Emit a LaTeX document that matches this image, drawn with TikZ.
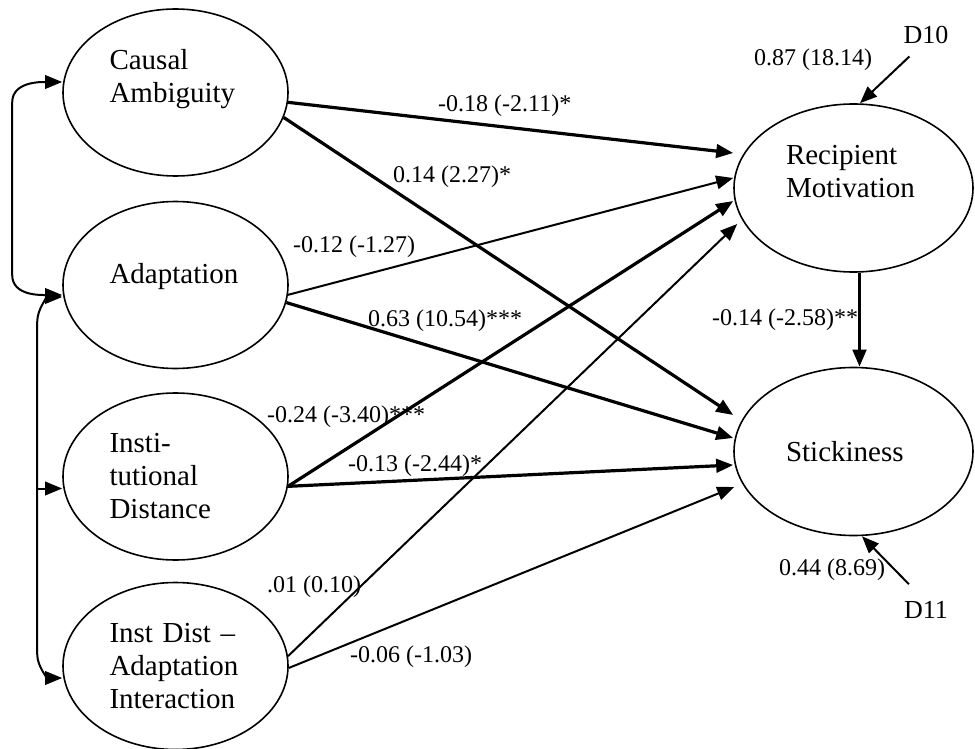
\documentclass[tikz,border=0pt]{standalone}
\usepackage{fontspec}
\setmainfont{Liberation Serif}
\usetikzlibrary{shapes.geometric,arrows.meta}
\begin{document}
\begin{tikzpicture}[x=1pt,y=1pt,
  arw/.tip={Triangle[length=17pt,width=13.5pt]},
  lat/.style={ellipse, draw, line width=1.6pt, inner sep=0pt,
    minimum width=225pt, minimum height=167pt, text width=132pt,
    align=left, font=\fontsize{29}{33}\selectfont},
  latR/.style={lat, minimum width=239pt, minimum height=168pt, text width=135pt},
  thk/.style={line width=3.2pt, -arw},
  thn/.style={line width=2pt, -arw},
  cov/.style={line width=2pt, arw-arw},
  brn/.style={line width=2pt, -arw},
  elab/.style={inner sep=0pt, anchor=west, font=\fontsize{24}{28}\selectfont},
  dlab/.style={inner sep=0pt, font=\fontsize{26}{30}\selectfont}
]
\useasboundingbox (0,0) rectangle (975,-749);

% latent variables
\node[lat]  (ca) at (175.5,-92.5) {Causal\\Ambiguity\\\mbox{}};
\node[lat]  (ad) at (175.5,-285)  {Adaptation\\[-9pt]\mbox{}};
\node[lat]  (id) at (175.5,-476.5) {Insti-\\tutional\\Distance};
\node[lat]  (ix) at (175.5,-666)  {Inst Dist –\\Adaptation\\Interaction};
\node[latR] (rm) at (853.5,-188)  {Recipient\\Motivation\\\mbox{}};
\node[latR] (st) at (853.5,-451.5) {Stickiness};

% disturbances
\node[dlab] (d10) at (926,-35)  {D10};
\node[dlab] (d11) at (926,-610) {D11};

% covariances
\draw[cov] ([yshift=10.5pt]ca.west) to[out=180,in=90] ([xshift=-50pt,yshift=-10pt]ca.west)
  -- ([xshift=-50pt,yshift=10pt]ad.west) to[out=-90,in=180] ([yshift=-10pt]ad.west);
\draw[cov] ([yshift=-12pt]ad.west) to[out=180,in=90] ([xshift=-25pt,yshift=-37pt]ad.west)
  -- ([xshift=-25pt,yshift=12pt]ix.west) to[out=-90,in=180] ([yshift=-12pt]ix.west);
\draw[brn] ([xshift=-25pt,yshift=-12pt]id.west) -- ([yshift=-12pt]id.west);

% structural paths
\draw[thk] (ca.-5.9)  -- ([yshift=35pt]rm.west);
\draw[thk] (ca.-13.3) -- ([yshift=36.5pt]st.west);
\draw[thn] (ad.-5.1)  -- ([yshift=10pt]rm.west);
\draw[thk] (ad.-9.3)  -- ([yshift=13.5pt]st.west);
\draw[thk] (id.-5.4)  -- ([yshift=-13pt]rm.west);
\draw[thk] (id.-5.4)  -- ([yshift=-13.5pt]st.west);
\draw[thn] (ix.5.4)   -- ([shift={(4pt,-36pt)}]rm.west);
\draw[thn] (ix.-1)    -- ([shift={(1pt,-35.5pt)}]st.west);
\draw[thk] ([xshift=6pt]rm.south) -- ([xshift=6pt]st.north);
\draw[thn] ([shift={(6pt,-12.5pt)}]d10.south west) -- ([xshift=6.5pt]rm.north);
\draw[thn] ([shift={(5pt,17pt)}]d11.north west) -- ([xshift=8.5pt]st.south);

% path labels
\node[elab] (l1)  at (438,-106) {-0.18 (-2.11)*};
\node[elab] (l2)  at (393,-177) {0.14 (2.27)*};
\node[elab] (l3)  at (293,-247) {-0.12 (-1.27)};
\node[elab] (l4)  at (368,-321) {0.63 (10.54)***};
\node[elab] (l5)  at (267,-417) {-0.24 (-3.40)***};
\node[elab] (l6)  at (348,-466) {-0.13 (-2.44)*};
\node[elab] (l7)  at (267,-587) {.01 (0.10)};
\node[elab] (l8)  at (350,-657) {-0.06 (-1.03)};
\node[elab] (l9)  at (712,-320) {-0.14 (-2.58)**};
\node[elab] (l10) at (754,-60)  {0.87 (18.14)};
\node[elab] (l11) at (779,-570) {0.44 (8.69)};
\end{tikzpicture}
\end{document}
